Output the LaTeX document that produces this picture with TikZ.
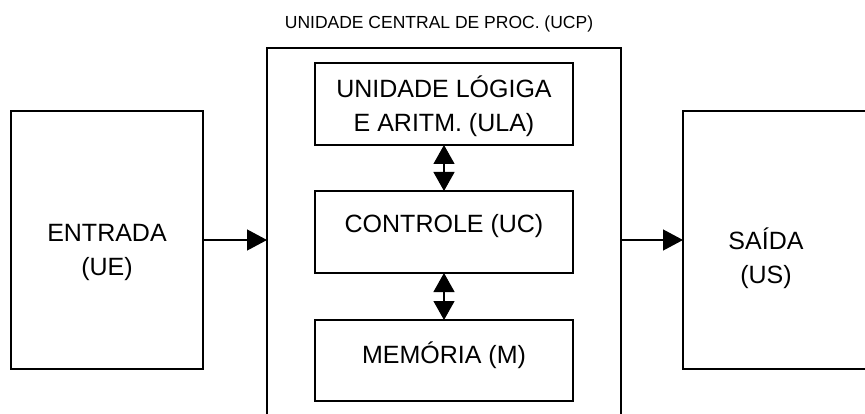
\documentclass[tikz,border=0pt]{standalone}
\usepackage{fontspec}
\setmainfont{Liberation Sans}
\usetikzlibrary{arrows.meta,positioning}

\tikzstyle{texto} = [align=center, font=\fontsize{25}{34}\selectfont]
\tikzstyle{bloco} = [rectangle, draw, line width=1.8pt, inner sep=0pt, outer sep=0pt]
\tikzstyle{interno} = [bloco, minimum width=258pt, minimum height=82pt]
\tikzstyle{linha} = [draw, line width=1.2pt, -{Triangle[length=20pt,width=21pt]}]
\tikzstyle{duplo} = [draw, line width=1.2pt,
    {Triangle[length=19pt,width=21pt]}-{Triangle[length=19pt,width=21pt]}]

\begin{document}
\begin{tikzpicture}[x=1pt, y=-1pt]
    \clip (0,0) rectangle (865,414);
    \node [bloco, minimum width=192pt, minimum height=258pt,
        label={[texto, yshift=-12pt]center:ENTRADA\\(UE)}] (Entrada) at (107,240) {};
    \node [bloco, minimum width=354pt, minimum height=382pt] (UCP) at (444,239) {};
    \node [font=\fontsize{17.5}{21}\selectfont] (Titulo) at (439,24) {UNIDADE CENTRAL DE PROC. (UCP)};

    \node [interno, label={[texto, yshift=-2pt]center:UNIDADE LÓGIGA\\E ARITM. (ULA)}] (ULA) at (444,104) {};
    \node [interno, below=46pt of ULA, label={[texto, yshift=6pt]center:CONTROLE (UC)}] (UC) {};
    \node [interno, below=47pt of UC, minimum height=81pt,
        label={[texto, yshift=5pt]center:MEMÓRIA (M)}] (Memoria) {};

    \node [bloco, minimum width=220pt, minimum height=258pt, anchor=west,
        label={[texto, xshift=-27pt, yshift=-18pt]center:SAÍDA\\(US)}] (Saida) at (683,240) {};

    \path [linha] (Entrada.east) -- (UCP.west |- Entrada.east);
    \path [linha] (UCP.east |- Saida.west) -- (Saida.west);
    \path [duplo] (ULA.south) -- (UC.north);
    \path [duplo] (UC.south) -- (Memoria.north);
\end{tikzpicture}
\end{document}
